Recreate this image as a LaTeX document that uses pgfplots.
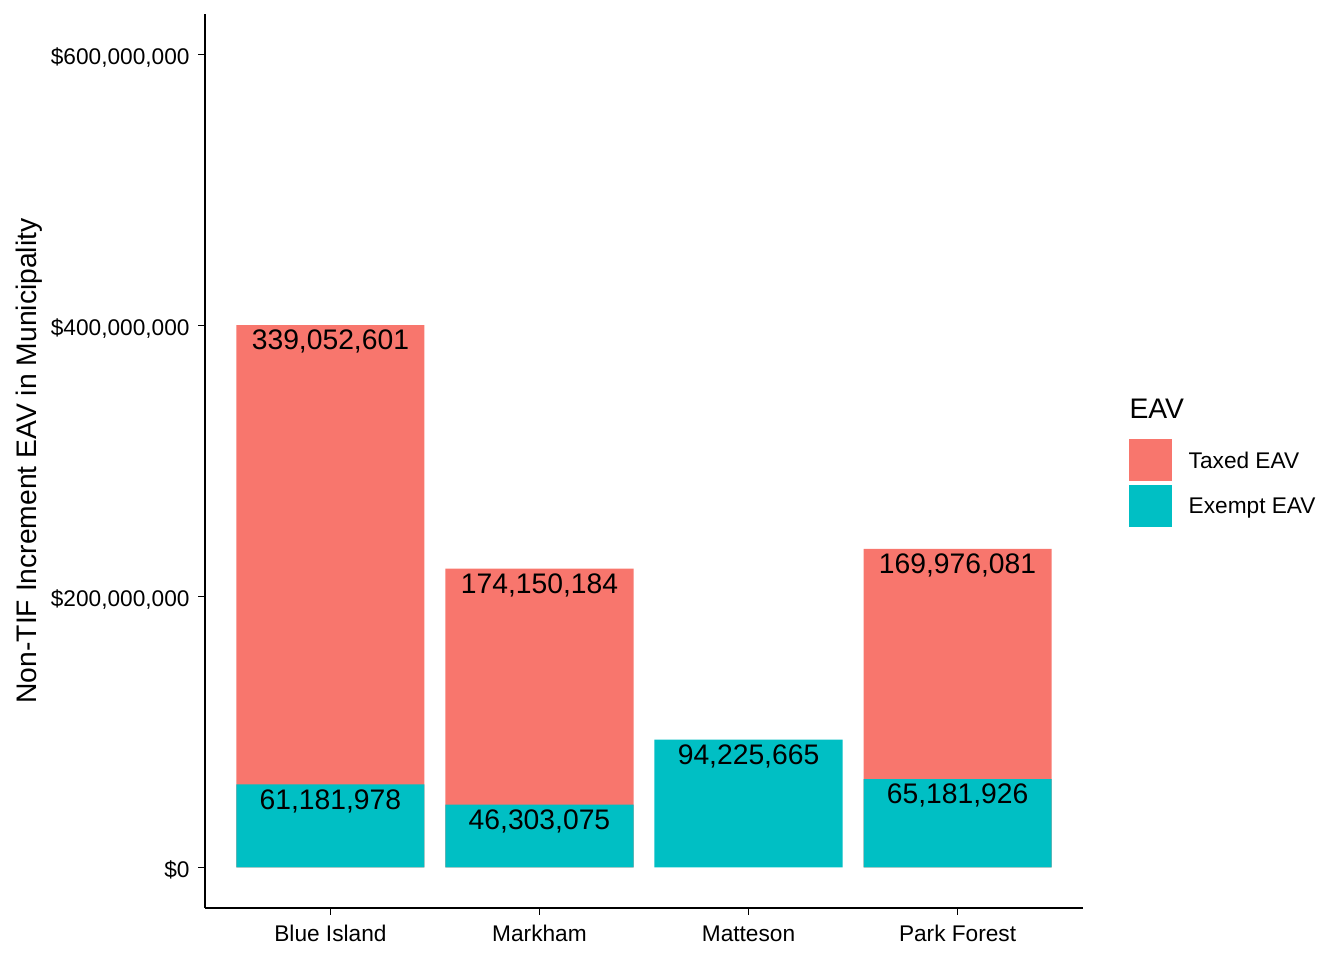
\documentclass[border=0pt]{standalone}
\usepackage{pgfplots}
\pgfplotsset{compat=1.18}
\usepackage{fontspec}
\setmainfont{Liberation Sans}
\definecolor{taxed}{HTML}{F8766D}
\definecolor{exempt}{HTML}{00BFC4}
\newcommand{\tickfont}{\fontsize{8.5bp}{10.2bp}\selectfont}
\newcommand{\titlefont}{\fontsize{10.6bp}{12.7bp}\selectfont}
\newcommand{\barfont}{\fontsize{10.6bp}{12.7bp}\selectfont}
\begin{document}
\begin{tikzpicture}
\path[use as bounding box] (-76.875bp,-19.5bp) rectangle (427.125bp,340.5bp);
\begin{axis}[
  at={(0,0)}, anchor=south west,
  scale only axis, width=329.25bp, height=335.25bp,
  xmin=0.4, xmax=4.6, ymin=-30000000, ymax=630000000,
  ybar, bar width=0.9, bar shift=0pt,
  axis x line*=bottom, axis y line*=left,
  axis line style={line width=0.55bp, black},
  tick style={line width=0.55bp, black},
  major tick length=2.6bp, tick align=outside,
  xtick={1,2,3,4}, xticklabels={Blue Island,Markham,Matteson,Park Forest},
  ytick={0,200000000,400000000,600000000},
  yticklabels={{\$0},{\$200,000,000},{\$400,000,000},{\$600,000,000}},
  scaled y ticks=false, minor tick num=0,
  ticklabel style={font=\tickfont, inner sep=0pt, text=black},
  xticklabel style={anchor=base, yshift=-10.1bp},
  yticklabel style={anchor=base east, yshift=-3.75bp, xshift=-3.0bp},
  ylabel={Non-TIF Increment EAV in Municipality},
  ylabel style={font=\titlefont, at={(axis description cs:-0.1919,0.5)}, anchor=base, inner sep=0pt},
  clip=false,
  point meta=explicit symbolic,
  nodes near coords={\pgfplotspointmeta},
  every node near coord/.append style={font=\barfont, anchor=base, yshift=-9.2bp, inner sep=0pt, text=black},
  legend cell align=left,
  legend style={at={(1.0524,0.5246)}, anchor=north west, draw=none, fill=none,
    inner sep=0pt, outer sep=0pt, row sep=1.65bp, font=\tickfont,
    nodes={inner sep=0pt, text depth=0pt}},
]
% Taxed EAV segment: drawn from 0 to the bar total (Exempt + Taxed); label = Taxed EAV
\addplot[fill=taxed, draw=none,
  legend image code/.code={\fill[taxed] (0bp,-7.8bp) rectangle (16.1bp,7.8bp); \path (22.4bp,0bp);}]
  table[x=x, y=top, meta=lab] {
x top lab
1 400234579 339,052,601
2 220453259 174,150,184
4 235158007 169,976,081
};
\addlegendentry{Taxed EAV}
% Exempt EAV segment
\addplot[fill=exempt, draw=none,
  legend image code/.code={\fill[exempt] (0bp,-7.8bp) rectangle (16.1bp,7.8bp); \path (22.4bp,0bp);}]
  table[x=x, y=y, meta=lab] {
x y lab
1 61181978 61,181,978
2 46303075 46,303,075
3 94225665 94,225,665
4 65181926 65,181,926
};
\addlegendentry{Exempt EAV}
\node[anchor=base west, inner sep=0pt, font=\titlefont] at (axis description cs:1.0524,0.547) {EAV};
\end{axis}
\end{tikzpicture}
\end{document}
